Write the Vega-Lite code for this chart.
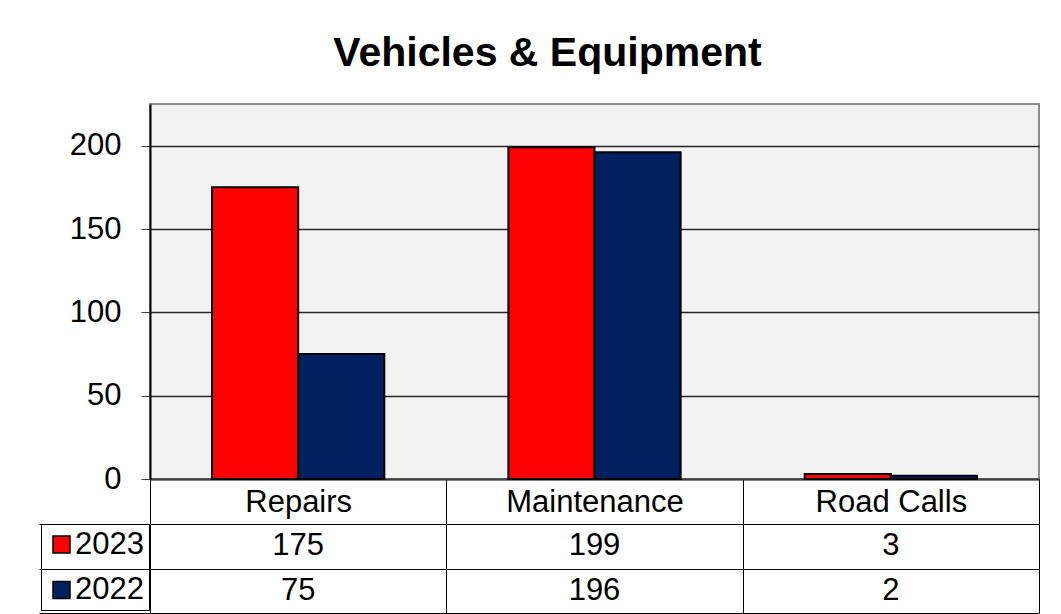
{
  "$schema": "https://vega.github.io/schema/vega-lite/v6.json",
  "background": "white",
  "padding": {"left": 38, "top": 33, "right": 5, "bottom": 0},
  "config": {
    "font": "Liberation Sans",
    "view": {"stroke": null},
    "axis": {"labelFont": "Liberation Sans", "labelColor": "black", "labelFontSize": 31, "title": null}
  },
  "title": {"text": "Vehicles & Equipment", "fontSize": 41, "fontWeight": "bold", "color": "black", "font": "Liberation Sans", "anchor": "middle", "dx": 8, "offset": 28},
  "datasets": {
    "d": [
      {"category": "Repairs", "year": "2023", "value": 175},
      {"category": "Repairs", "year": "2022", "value": 75},
      {"category": "Maintenance", "year": "2023", "value": 199},
      {"category": "Maintenance", "year": "2022", "value": 196},
      {"category": "Road Calls", "year": "2023", "value": 3},
      {"category": "Road Calls", "year": "2022", "value": 2}
    ]
  },
  "data": {"name": "d"},
  "spacing": 45,
  "bounds": "flush",
  "resolve": {"scale": {"color": "independent", "x": "shared"}, "legend": {"color": "independent"}},
  "vconcat": [
    {
      "width": 889,
      "height": 375,
      "view": {"fill": "#F2F2F2", "stroke": "#8C8C8C", "strokeWidth": 2},
      "mark": {"type": "bar", "stroke": "black", "strokeWidth": 2},
      "encoding": {
        "x": {
          "field": "category", "type": "nominal",
          "sort": ["Repairs", "Maintenance", "Road Calls"],
          "scale": {"paddingInner": 0, "paddingOuter": 0},
          "axis": {"labelAngle": 0, "tickBand": "extent", "tickSize": 45, "tickColor": "black", "tickWidth": 1, "labelPadding": -22, "labelBaseline": "middle", "domainColor": "#404040", "domainWidth": 2, "grid": false}
        },
        "xOffset": {"field": "year", "type": "nominal", "sort": ["2023", "2022"], "scale": {"paddingInner": 0, "paddingOuter": 0.72}},
        "y": {
          "field": "value", "type": "quantitative",
          "scale": {"domain": [0, 225], "nice": false},
          "axis": {"values": [0, 50, 100, 150, 200], "grid": true, "gridColor": "#262626", "gridWidth": 1.3, "tickSize": 9, "tickColor": "#404040", "domainColor": "black", "domainWidth": 2, "labelPadding": 20}
        },
        "color": {"field": "year", "type": "nominal", "scale": {"domain": ["2023", "2022"], "range": ["#FF0000", "#002060"]}, "legend": null}
      }
    },
    {
      "width": 889,
      "height": 89,
      "encoding": {
        "x": {
          "field": "category", "type": "nominal",
          "sort": ["Repairs", "Maintenance", "Road Calls"],
          "scale": {"paddingInner": 0, "paddingOuter": 0},
          "axis": {"labels": false, "ticks": false, "domain": false, "grid": true, "tickBand": "extent", "gridColor": "black", "gridWidth": 1}
        },
        "y": {
          "field": "year", "type": "nominal", "sort": ["2023", "2022"],
          "scale": {"paddingInner": 0, "paddingOuter": 0},
          "axis": {"labels": false, "ticks": true, "tickSize": 111, "tickBand": "extent", "tickColor": "black", "tickWidth": 1, "domain": true, "domainColor": "black", "domainWidth": 1, "grid": true, "gridColor": "black", "gridWidth": 1}
        }
      },
      "layer": [
        {
          "mark": {"type": "text", "fontSize": 31, "color": "black", "font": "Liberation Sans", "baseline": "middle"},
          "encoding": {"text": {"field": "value", "type": "quantitative"}}
        },
        {
          "transform": [{"filter": "false"}],
          "mark": {"type": "bar", "stroke": "black"},
          "encoding": {
            "color": {
              "field": "year", "type": "nominal",
              "scale": {"domain": ["2023", "2022"], "range": ["#FF0000", "#002060"]},
              "legend": {"orient": "left", "title": null, "offset": -111, "padding": 5, "labelOffset": -2, "labelFontSize": 31, "labelFont": "Liberation Sans", "labelColor": "black", "symbolType": "square", "symbolSize": 289, "symbolStrokeColor": "black", "symbolStrokeWidth": 1.5, "symbolOpacity": 1, "rowPadding": 13.5, "strokeColor": "black"}
            }
          }
        }
      ]
    }
  ]
}
